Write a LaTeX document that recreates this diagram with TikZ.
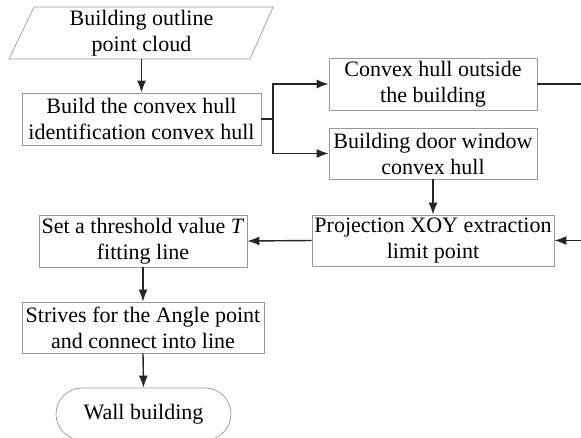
\documentclass[tikz,border=0pt]{standalone}
\usepackage{fontspec}
\setmainfont{Liberation Serif}
\usetikzlibrary{arrows.meta}
\begin{document}
\begin{tikzpicture}[x=1pt,y=-1pt,
  box/.style={draw=gray!80, line width=0.7pt, rectangle, align=center,
    font=\fontsize{22}{26}\selectfont, inner sep=0pt},
  txt/.style={align=center, font=\fontsize{22}{26}\selectfont, inner sep=0pt},
  conn/.style={draw=black!85, line width=1.4pt, -{Latex[length=12pt,width=9pt]}},
  ln/.style={draw=black!85, line width=1.4pt}]
\useasboundingbox (0,0) rectangle (581,437);
% input (parallelogram)
\draw[gray!80, line width=0.7pt] (34,7) -- (273,7) -- (250,59) -- (9,59) -- cycle;
\node[txt, minimum width=240pt, minimum height=52pt] (p) at (141.5,33) {Building outline\\point cloud};
\node[box, minimum width=239pt, minimum height=52pt] (b2) at (141.5,119) {Build the convex hull\\identification convex hull};
\node[box, minimum width=208pt, minimum height=52pt] (b3) at (433,84) {Convex hull outside\\the building};
\node[box, minimum width=208pt, minimum height=51pt] (b4) at (433,153.5) {Building door window\\convex hull};
\node[box, minimum width=242pt, minimum height=51pt] (b5) at (433,240.5) {Projection XOY extraction\\limit point};
\node[box, minimum width=208pt, minimum height=52pt] (b6) at (143,241) {Set a threshold value \textit{T}\\fitting line};
\node[box, minimum width=242pt, minimum height=51pt] (b7) at (143,327.5) {Strives for the Angle point\\and connect into line};
\node[box, rounded corners=26pt, minimum width=175pt, minimum height=52pt] (t) at (143.5,414) {Wall building};
\coordinate (j) at (273,119);
\coordinate (r) at (590,84);
% connectors
\draw[conn] (p.south) -- (b2.north);
\draw[ln] (b2.east) -- (j);
\draw[conn] (j) |- (b3.west);
\draw[conn] (j) |- (b4.west);
\draw[conn] (b4.south) -- (b5.north);
\draw[conn] (b3.east) -- (r) |- (b5.east);
\draw[conn] (b5.west) -- (b6.east);
\draw[conn] (b6.south) -- (b7.north);
\draw[conn] (b7.south) -- (t.north);
\end{tikzpicture}
\end{document}
